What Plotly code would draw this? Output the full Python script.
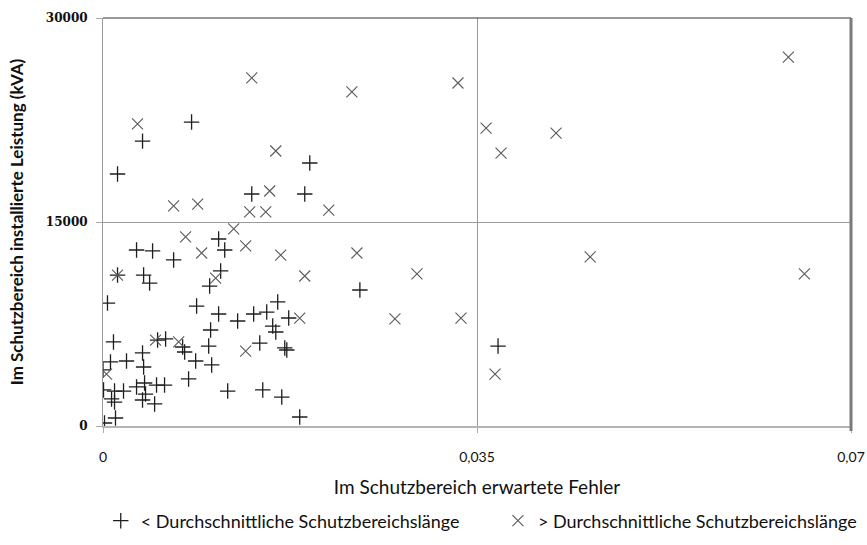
import plotly.graph_objects as go

# < average protection zone length (plus markers)
below_x = [0.00829, 0.00370, 0.00136, 0.01935, 0.01392, 0.01888, 0.01082, 0.01139,
           0.00314, 0.00464, 0.00661, 0.01101, 0.00136, 0.00380, 0.00436, 0.00998,
           0.00042, 0.00876, 0.01082, 0.01260, 0.01410, 0.01532, 0.01635, 0.01738,
           0.00098, 0.00511, 0.00586, 0.01007, 0.00989, 0.01588, 0.01617, 0.01467,
           0.01701, 0.01720, 0.00745, 0.00764, 0.00070, 0.00220, 0.00370, 0.00380,
           0.00867, 0.01017, 0.00000, 0.00801, 0.00005, 0.00108, 0.00192, 0.00314,
           0.00389, 0.00398, 0.00501, 0.00576, 0.00080, 0.00108, 0.00370, 0.00483,
           0.01167, 0.01495, 0.01673, 0.01841, 0.00014, 0.00117, 0.02404, 0.03697]
below_y = [22350, 20950, 18530, 19340, 17060, 17060, 13750, 12940,
           12940, 12870, 12210, 11400, 11100, 11100, 10510, 10290,
           9040, 8820, 8235, 7720, 8235, 8380, 9120, 7940,
           6180, 6320, 6400, 7060, 5880, 7350, 6910, 6100,
           5740, 5590, 5810, 5440, 4710, 4780, 5370, 4340,
           4780, 4490, 4120, 3460, 2650, 2570, 2570, 2870,
           3160, 2350, 3010, 3010, 1990, 1760, 1910, 1620,
           2570, 2650, 2130, 660, 220, 590, 10000, 5880]

# > average protection zone length (x markers)
above_x = [0.06414, 0.01392, 0.03322, 0.02329, 0.00323, 0.03585, 0.04240, 0.03725,
           0.01617, 0.02113, 0.00661, 0.00886, 0.01373, 0.01523, 0.01560, 0.01223,
           0.01335, 0.01663, 0.01888, 0.01841, 0.01335, 0.01054, 0.00773, 0.00923,
           0.00136, 0.00492, 0.00708, 0.00033, 0.02376, 0.02938, 0.02732, 0.03350,
           0.03669, 0.04559, 0.06564]
above_y = [27130, 25590, 25220, 24560, 22210, 21910, 21540, 20070,
           20220, 15880, 16180, 16320, 15740, 15740, 17280, 14490,
           13240, 12570, 11030, 7940, 5510, 10880, 13900, 12720,
           11100, 6320, 6180, 3820, 12720, 11180, 7870, 7940,
           3820, 12430, 11180]

x_ticks = [0, 0.035, 0.07]
x_tick_text = ["0", "0,035", "0,07"]
y_ticks = [0, 15000, 30000]
y_tick_text = ["0", "15000", "30000"]

fig = go.Figure()
fig.add_trace(go.Scatter(
    x=below_x, y=below_y, mode="markers",
    name="< Durchschnittliche Schutzbereichslänge", legend="legend",
    marker=dict(symbol="cross-thin", size=11, line=dict(color="#1e1e1e", width=1.3)),
))
fig.add_trace(go.Scatter(
    x=above_x, y=above_y, mode="markers",
    name="> Durchschnittliche Schutzbereichslänge", legend="legend2",
    marker=dict(symbol="x-thin", size=11, line=dict(color="#5a5a5a", width=1.1)),
))

leg_font = dict(size=18, family="Lato", color="#111")
fig.update_layout(
    width=867, height=545,
    margin=dict(l=103, r=16, t=18, b=119, autoexpand=False),
    paper_bgcolor="white", plot_bgcolor="white",
    font=dict(family="Lato, sans-serif", color="#111"),
    showlegend=True,
    legend=dict(x=-0.003, xanchor="left", y=-0.2328, yanchor="middle",
                font=leg_font, itemwidth=30, bgcolor="rgba(0,0,0,0)"),
    legend2=dict(x=0.528, xanchor="left", y=-0.2328, yanchor="middle",
                 font=leg_font, itemwidth=30, bgcolor="rgba(0,0,0,0)"),
    xaxis=dict(
        range=[0, 0.07], tickvals=x_ticks, ticktext=x_tick_text,
        showgrid=True, gridcolor="#9a9a9a", gridwidth=1,
        showline=True, linecolor="#b5b5b5", linewidth=2,
        ticks="outside", ticklen=5, tickcolor="#aaa",
        ticklabelstandoff=12, automargin=False,
        tickfont=dict(size=14, family="Lato", color="#111"),
        title=dict(text="Im Schutzbereich erwartete Fehler", standoff=17,
                   font=dict(size=19, family="Lato", color="#111")),
        zeroline=False,
    ),
    yaxis=dict(
        range=[0, 30000], tickvals=y_ticks, ticktext=y_tick_text,
        showgrid=True, gridcolor="#9a9a9a", gridwidth=1,
        showline=True, linecolor="#9a9a9a", linewidth=1,
        ticks="outside", ticklen=6, tickcolor="#aaa",
        ticklabelstandoff=6, automargin=False,
        tickfont=dict(size=12, family="DejaVu Serif", color="#111", weight="bold"),
        title=dict(text="<b>Im Schutzbereich installierte Leistung (kVA)</b>", standoff=17,
                   font=dict(size=17, family="Lato", color="#111")),
        zeroline=False,
    ),
    shapes=[
        dict(type="line", xref="paper", yref="paper", x0=0, x1=1, y0=1, y1=1,
             line=dict(color="#333", width=1)),
        dict(type="line", xref="paper", yref="paper", x0=1, x1=1, y0=-0.012, y1=1,
             line=dict(color="#7a7a7a", width=3)),
    ],
)

fig.write_html("out.html")
